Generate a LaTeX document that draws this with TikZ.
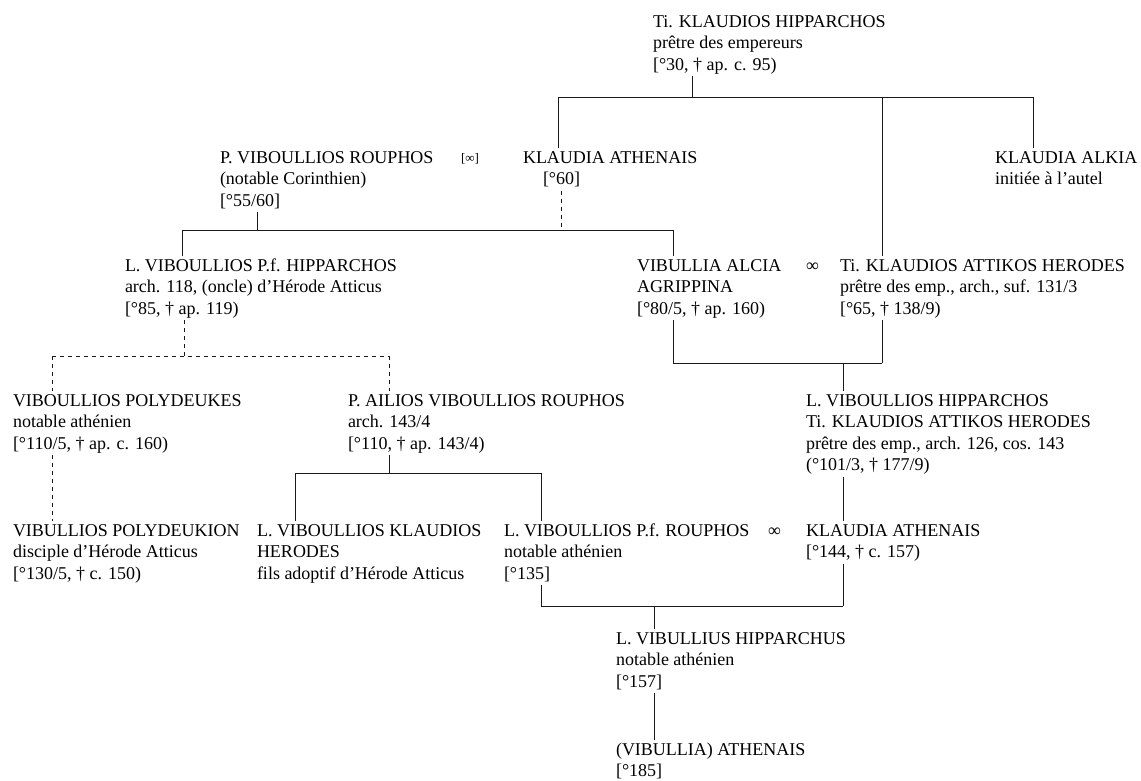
\documentclass[tikz,border=0pt]{standalone}
\usepackage{fontspec}
\setmainfont{Liberation Serif}
\newcommand{\pers}[1]{\begin{tabular}[t]{@{}l@{}}#1\end{tabular}}
\tikzset{
  pn/.style={inner sep=0pt, outer sep=0pt, anchor=base west, font=\fontsize{18}{21.5}\selectfont},
  mar/.style={inner sep=0pt, outer sep=0pt, anchor=base west, font=\fontsize{18}{21.5}\selectfont},
  smallmar/.style={inner sep=0pt, outer sep=0pt, anchor=base west, font=\fontsize{13}{15}\selectfont},
  ln/.style={line width=0.9pt, draw=black!90},
  dl/.style={ln, dash pattern=on 4pt off 4pt},
}
\begin{document}
\begin{tikzpicture}[x=1pt,y=-1pt]
\useasboundingbox (0,0) rectangle (1141,780);
% ---------- persons ----------
\node[pn] (hip) at (653,27) {\pers{Ti. KLAUDIOS HIPPARCHOS\\prêtre des empereurs\\{}[°30, † ap. c. 95)}};
\node[pn] (rou) at (220,163) {\pers{P. VIBOULLIOS ROUPHOS\\(notable Corinthien)\\{}[°55/60]}};
\node[smallmar] (m1) at (461,162) {[∞]};
\node[pn] (ath1) at (523,163) {\pers{KLAUDIA ATHENAIS\\\hspace*{20pt}[°60]}};
\node[pn] (alk) at (995,163) {\pers{KLAUDIA ALKIA\\initiée à l’autel}};
\node[pn] (hipL) at (125,271) {\pers{L. VIBOULLIOS P.f. HIPPARCHOS\\arch. 118, (oncle) d’Hérode Atticus\\{}[°85, † ap. 119)}};
\node[pn] (alc) at (637,271) {\pers{VIBULLIA ALCIA\\AGRIPPINA\\{}[°80/5, † ap. 160)}};
\node[mar] (m2) at (806,271) {∞};
\node[pn] (att) at (840,271) {\pers{Ti. KLAUDIOS ATTIKOS HERODES\\prêtre des emp., arch., suf. 131/3\\{}[°65, † 138/9)}};
\node[pn] (pol) at (13,406) {\pers{VIBOULLIOS POLYDEUKES\\notable athénien\\{}[°110/5, † ap. c. 160)}};
\node[pn] (ail) at (348,406) {\pers{P. AILIOS VIBOULLIOS ROUPHOS\\arch. 143/4\\{}[°110, † ap. 143/4)}};
\node[pn] (hip2) at (806,406) {\pers{L. VIBOULLIOS HIPPARCHOS\\Ti. KLAUDIOS ATTIKOS HERODES\\prêtre des emp., arch. 126, cos. 143\\(°101/3, † 177/9)}};
\node[pn] (polk) at (13,536) {\pers{VIBULLIOS POLYDEUKION\\disciple d’Hérode Atticus\\{}[°130/5, † c. 150)}};
\node[pn] (kla) at (257,536) {\pers{L. VIBOULLIOS KLAUDIOS\\HERODES\\fils adoptif d’Hérode Atticus}};
\node[pn] (ruf) at (504,536) {\pers{L. VIBOULLIOS P.f. ROUPHOS\\notable athénien\\{}[°135]}};
\node[mar] (m3) at (768,536) {∞};
\node[pn] (ath2) at (806,536) {\pers{KLAUDIA ATHENAIS\\{}[°144, † c. 157)}};
\node[pn] (vib) at (616,644) {\pers{L. VIBULLIUS HIPPARCHUS\\notable athénien\\{}[°157]}};
\node[pn] (ath3) at (616,755) {\pers{(VIBULLIA) ATHENAIS\\{}[°185]}};
% ---------- junction points ----------
\coordinate (b1L) at (558,97);  \coordinate (b1R) at (1033,97);
\coordinate (b1m) at (692,97);  \coordinate (b1a) at (882,97);
\coordinate (b2L) at (182,230); \coordinate (b2R) at (673,230);
\coordinate (b2m) at (257,230); \coordinate (b2d) at (561,230);
\coordinate (b3L) at (52,356);  \coordinate (b3R) at (389,356);
\coordinate (b3m) at (184,356);
\coordinate (b4L) at (673,363); \coordinate (b4R) at (882,363);
\coordinate (b4m) at (843,363);
\coordinate (b5L) at (295,473); \coordinate (b5R) at (541,473);
\coordinate (b5m) at (389,473);
\coordinate (b6L) at (541,606); \coordinate (b6R) at (843,606);
\coordinate (b6m) at (654.5,606);
% ---------- connectors ----------
\draw[ln] (b1L) -- (b1R);
\draw[ln] (hip.south -| b1m) -- (b1m);
\draw[ln] (b1L) -- (b1L |- ath1.north);
\draw[ln] (b1R) -- (b1R |- alk.north);
\draw[ln] (b1a) -- (b1a |- att.north);
\draw[ln] (b2L) -- (b2R);
\draw[ln] (rou.south -| b2m) -- (b2m);
\draw[dl] (ath1.south -| b2d) -- (b2d);
\draw[ln] (b2L) -- (b2L |- hipL.north);
\draw[ln] (b2R) -- (b2R |- alc.north);
\draw[dl] (b3L) -- (b3R);
\draw[dl] (hipL.south -| b3m) -- (b3m);
\draw[dl] (b3L) -- (b3L |- pol.north);
\draw[dl] (b3R) -- (b3R |- ail.north);
\draw[ln] (b4L) -- (b4R);
\draw[ln] (alc.south -| b4L) -- (b4L);
\draw[ln] (att.south -| b4R) -- (b4R);
\draw[ln] (b4m) -- (b4m |- hip2.north);
\draw[ln] (b5L) -- (b5R);
\draw[ln] (ail.south -| b5m) -- (b5m);
\draw[ln] (b5L) -- (b5L |- kla.north);
\draw[ln] (b5R) -- (b5R |- ruf.north);
\draw[dl] (pol.south -| b3L) -- (polk.north -| b3L);
\draw[ln] (hip2.south -| b4m) -- (ath2.north -| b4m);
\draw[ln] (b6L) -- (b6R);
\draw[ln] (ruf.south -| b6L) -- (b6L);
\draw[ln] (ath2.south -| b6R) -- (b6R);
\draw[ln] (b6m) -- (b6m |- vib.north);
\draw[ln] (vib.south -| b6m) -- (ath3.north -| b6m);
\end{tikzpicture}
\end{document}
